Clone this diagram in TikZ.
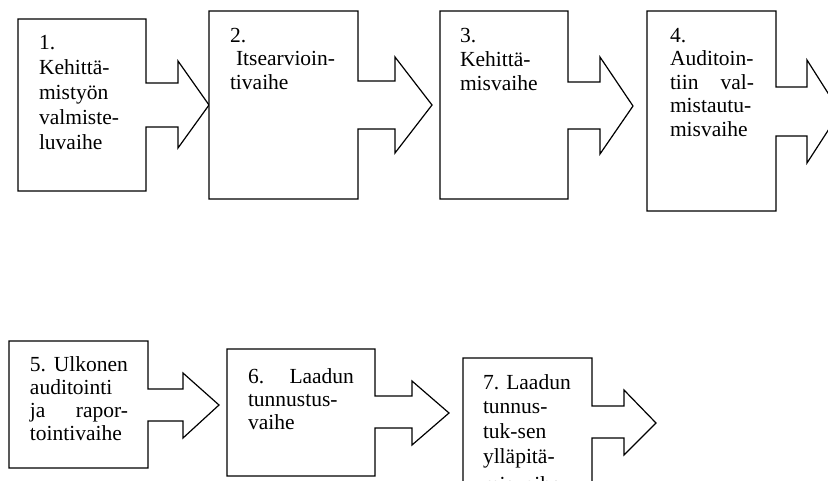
\documentclass[tikz,border=0pt]{standalone}
\usepackage{fontspec}
\setmainfont{Liberation Serif}
\begin{document}
\begin{tikzpicture}[x=1pt,y=-1pt,
  arrbox/.style={draw=black,line width=1.2pt,line join=miter,fill=white},
  txt/.style={anchor=base west,inner sep=0pt,outer sep=0pt,align=left,
    font=\fontsize{21.5}{#1}\selectfont},
  txt/.default=24]
\useasboundingbox (0,0) rectangle (828,480);
% row 1
\draw[arrbox] (18,19) -- (146,19) -- (146,83) -- (178,83) -- (178,61) -- (209,105) -- (178,148) -- (178,127) -- (146,127) -- (146,191) -- (18,191) -- cycle;
\draw[arrbox] (209,11) -- (358,11) -- (358,81) -- (395,81) -- (395,57) -- (432,105) -- (395,153) -- (395,129) -- (358,129) -- (358,199) -- (209,199) -- cycle;
\draw[arrbox] (440,11) -- (568,11) -- (568,82) -- (600,82) -- (600,57) -- (633,106) -- (600,154) -- (600,129) -- (568,129) -- (568,199) -- (440,199) -- cycle;
\draw[arrbox] (647,11) -- (776,11) -- (776,87) -- (807,87) -- (807,60) -- (840,112) -- (807,163) -- (807,136) -- (776,136) -- (776,211) -- (647,211) -- cycle;
% row 2
\draw[arrbox] (9,341) -- (148,341) -- (148,389) -- (183,389) -- (183,373) -- (219,405) -- (183,438) -- (183,421) -- (148,421) -- (148,468) -- (9,468) -- cycle;
\draw[arrbox] (227,349) -- (375,349) -- (375,396) -- (412,396) -- (412,381) -- (449,413) -- (412,445) -- (412,428) -- (375,428) -- (375,476) -- (227,476) -- cycle;
\draw[arrbox] (463,358) -- (592,358) -- (592,406) -- (624,406) -- (624,390) -- (656,423) -- (624,455) -- (624,438) -- (592,438) -- (592,520) -- (463,520) -- cycle;
% texts
\node[txt=25, text width=100pt] (t1) at (39,49) {1.\\Kehittä-\\mistyön\\valmiste-\\luvaihe};
\node[txt=23.5, text width=120pt] (t2) at (230,42) {2.\\\hspace*{6pt}Itsearvioin-\\tivaihe};
\node[txt=24, text width=100pt] (t3) at (460,42) {3.\\Kehittä-\\misvaihe};
\node[txt=23.5, text width=95pt] (t4) at (670,42) {4.\\Auditoin-\\\makebox[84pt][s]{tiin\hfill val-}\\mistautu-\\misvaihe};
\node[txt=23.3, text width=104pt] (t5) at (30,371) {\makebox[98pt][s]{5.\hfill Ulkonen}\\auditointi\\\makebox[98pt][s]{ja\hfill rapor-}\\tointivaihe};
\node[txt=23, text width=112pt] (t6) at (248,383) {\makebox[106pt][s]{6.\hfill Laadun}\\tunnustus-\\vaihe};
\node[txt=24.7, text width=104pt] (t7) at (483,389) {7.~Laadun\\tunnus-\\tuk-sen\\ylläpitä-\\[4pt]misvaihe};
\end{tikzpicture}
\end{document}
